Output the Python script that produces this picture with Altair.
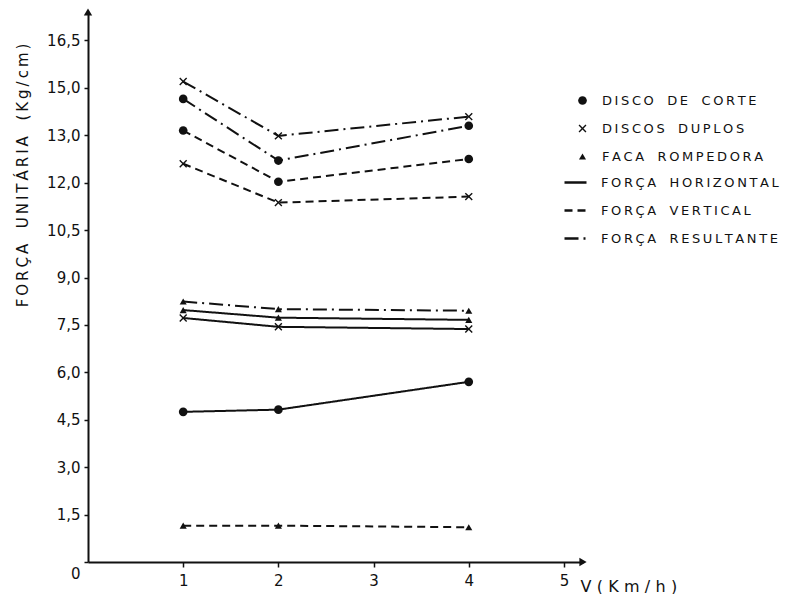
import altair as alt
import pandas as pd

THIN = "\u2009"
NBSP = "\u00a0"


def tracked(text, pad=THIN, gap=NBSP * 2):
    """Letter-spaced lettering: narrow spaces between letters, wide word gaps."""
    return (pad + gap + pad).join(pad.join(word) for word in text.split(" "))


# Speeds (km/h) at which each implement was tested
speeds = [1, 2, 4]

implements = [tracked("DISCO DE CORTE"), tracked("DISCOS DUPLOS"),
              tracked("FACA ROMPEDORA")]
forces = [tracked("FORÇA HORIZONTAL"), tracked("FORÇA VERTICAL"),
          tracked("FORÇA RESULTANTE")]

# Unit force (kg/cm) per implement and force component, at 1, 2 and 4 km/h
disco_horizontal = [4.75, 4.82, 5.70]
disco_vertical = [13.65, 12.03, 12.75]
disco_resultante = [14.65, 12.70, 13.80]

duplos_horizontal = [7.72, 7.44, 7.37]
duplos_vertical = [12.60, 11.37, 11.56]
duplos_resultante = [15.20, 13.48, 14.09]

faca_horizontal = [7.97, 7.73, 7.66]
faca_vertical = [1.15, 1.15, 1.10]
faca_resultante = [8.24, 8.00, 7.95]

series = {
    (implements[0], forces[0]): disco_horizontal,
    (implements[0], forces[1]): disco_vertical,
    (implements[0], forces[2]): disco_resultante,
    (implements[1], forces[0]): duplos_horizontal,
    (implements[1], forces[1]): duplos_vertical,
    (implements[1], forces[2]): duplos_resultante,
    (implements[2], forces[0]): faca_horizontal,
    (implements[2], forces[1]): faca_vertical,
    (implements[2], forces[2]): faca_resultante,
}

rows = []
for (imp, frc), vals in series.items():
    for v, f in zip(speeds, vals):
        rows.append({"v": v, "f": f, "implemento": imp, "forca": frc,
                     "serie": imp + "|" + frc})
df = pd.DataFrame(rows)

# Axis ticks
x_ticks = [1, 2, 3, 4, 5]
y_ticks = [0, 1.5, 3, 4.5, 6, 7.5, 9, 10.5, 12, 13.5, 15, 16.5]
y_labels = ["0", "1,5", "3,0", "4,5", "6,0", "7,5", "9,0", "10,5", "12,0",
            "13,0", "15,0", "16,5"]
x_max = 5.2
y_max = 17.4

label_expr = "''"
for val, lab in reversed(list(zip(y_ticks, y_labels))):
    label_expr = f"datum.value == {val} ? '{lab}' : ({label_expr})"

FONT = "DejaVu Sans"
INK = "#111111"

# Filled "x" glyph for the double-disc implement
x_glyph = ("M-1,-0.75L-0.75,-1L0,-0.25L0.75,-1L1,-0.75L0.25,0L1,0.75L0.75,1"
           "L0,0.25L-0.75,1L-1,0.75L-0.25,0Z")

x_scale = alt.Scale(domain=[0, x_max], nice=False, zero=True)
y_scale = alt.Scale(domain=[0, y_max], nice=False, zero=True)

x_enc = alt.X("v:Q", scale=x_scale, axis=alt.Axis(
    values=x_ticks, format="d", title=tracked("V(Km/h)", pad="\u2004"),
    grid=False, domain=True, domainColor=INK, domainWidth=2, tickColor=INK,
    tickSize=5, tickWidth=1.5, labelFont=FONT, labelFontSize=15,
    labelColor=INK, labelPadding=6, titleFont=FONT, titleFontSize=16,
    titleFontWeight="normal", titleColor=INK, titleX=492, titleY=24,
    titleAlign="left", titleBaseline="middle"))

y_enc = alt.Y("f:Q", scale=y_scale, axis=alt.Axis(
    values=y_ticks, labelExpr=label_expr,
    title=tracked("FORÇA UNITÁRIA (Kg/cm)"),
    grid=False, domain=True, domainColor=INK, domainWidth=2, tickColor=INK,
    tickSize=4, tickWidth=1.5, labelFont=FONT, labelFontSize=15,
    labelColor=INK, labelPadding=4,
    labelOffset={"condition": {"test": "datum.value === 0", "value": 11},
                 "value": 0},
    titleFont=FONT, titleFontSize=15, titleFontWeight="normal", titleColor=INK,
    titleAngle=270, titleX=-66, titleY=163, titleAlign="center",
    titleBaseline="middle", titleLimit=400))

lines = alt.Chart(df).mark_line(color=INK, strokeWidth=2).encode(
    x=x_enc,
    y=y_enc,
    detail="serie:N",
    strokeDash=alt.StrokeDash(
        "forca:N",
        scale=alt.Scale(domain=forces, range=[[1, 0], [8, 5], [14, 5, 2, 5]]),
        legend=alt.Legend(
            title=None, orient="none", legendX=475, legendY=158,
            symbolSize=484, symbolStrokeWidth=2.5, symbolStrokeColor=INK,
            labelFont=FONT, labelFontSize=13, labelColor=INK, labelOffset=13,
            rowPadding=8, symbolType="stroke", labelLimit=300),
    ),
)

shape_legend = alt.Legend(
    title=None, orient="none", legendX=488, legendY=82,
    symbolFillColor=INK, symbolStrokeColor=INK, symbolStrokeWidth=0,
    labelFont=FONT, labelFontSize=13, labelColor=INK, labelOffset=13,
    rowPadding=14, labelLimit=300)

points = alt.Chart(df).mark_point(filled=True, color=INK, opacity=1).encode(
    x="v:Q",
    y="f:Q",
    shape=alt.Shape(
        "implemento:N",
        scale=alt.Scale(domain=implements,
                        range=["circle", x_glyph, "triangle-up"]),
        legend=shape_legend,
    ),
    size=alt.Size("implemento:N",
                  scale=alt.Scale(domain=implements, range=[75, 50, 65]),
                  legend=shape_legend),
)

# Arrowheads at the ends of both axes
arrows_df = pd.DataFrame({
    "v": [0, x_max],
    "f": [y_max, 0],
    "dir": ["triangle-up", "triangle-right"],
})
arrows = alt.Chart(arrows_df).mark_point(
    filled=True, color=INK, opacity=1, size=70).encode(
    x="v:Q", y="f:Q",
    shape=alt.Shape("dir:N", scale=None, legend=None),
)

chart = alt.layer(lines, points, arrows).properties(
    width=495, height=550,
    padding={"left": 88, "top": 12, "right": 214, "bottom": 32},
    autosize=alt.AutoSizeParams(type="none"),
    background="white",
).configure_view(stroke=None)

chart.save("out.html", embed_options={"renderer": "svg", "actions": False})
